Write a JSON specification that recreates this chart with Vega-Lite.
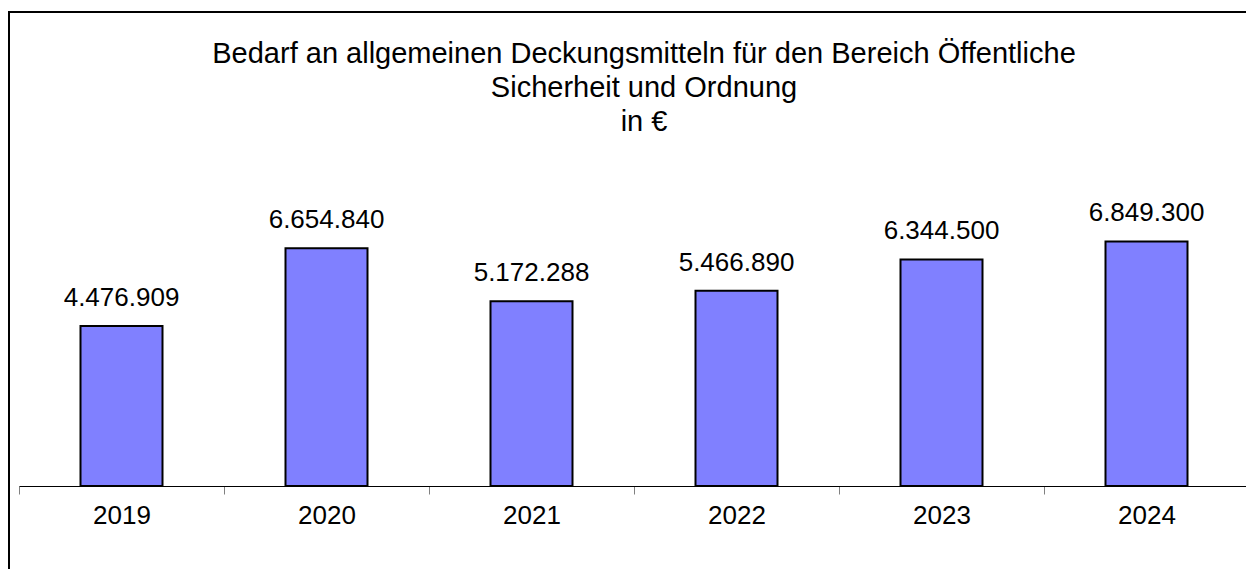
{
  "$schema": "https://vega.github.io/schema/vega-lite/v6.json",
  "autosize": "none",
  "width": 1300,
  "height": 620,
  "padding": {"left": 9, "top": 12, "right": -63, "bottom": -63},
  "background": "white",
  "config": {
    "font": "Liberation Sans",
    "view": {"stroke": "black", "strokeWidth": 2},
    "locale": {"number": {"decimal": ",", "thousands": ".", "grouping": [3], "currency": ["", " €"]}}
  },
  "title": {
    "text": ["Bedarf an allgemeinen Deckungsmitteln für den Bereich Öffentliche", "Sicherheit und Ordnung", "in €"],
    "font": "Liberation Sans",
    "fontSize": 29,
    "fontWeight": "normal",
    "color": "black",
    "lineHeight": 34,
    "anchor": "middle",
    "frame": "group",
    "baseline": "top",
    "offset": -125,
    "dx": -15
  },
  "data": {
    "values": [
      {"Jahr": "2019", "Betrag": 4476909},
      {"Jahr": "2020", "Betrag": 6654840},
      {"Jahr": "2021", "Betrag": 5172288},
      {"Jahr": "2022", "Betrag": 5466890},
      {"Jahr": "2023", "Betrag": 6344500},
      {"Jahr": "2024", "Betrag": 6849300}
    ]
  },
  "encoding": {
    "x": {
      "field": "Jahr",
      "type": "nominal",
      "scale": {"paddingInner": 0, "paddingOuter": 0, "range": [10, 1240]},
      "axis": {
        "title": null,
        "orient": "bottom",
        "offset": -146,
        "tickBand": "extent",
        "domainColor": "black",
        "domainWidth": 1,
        "tickColor": "#808080",
        "tickSize": 8,
        "tickWidth": 1,
        "labelAngle": 0,
        "labelFont": "Liberation Sans",
        "labelFontSize": 26,
        "labelColor": "black",
        "labelPadding": 8
      }
    },
    "y": {
      "field": "Betrag",
      "type": "quantitative",
      "scale": {"domain": [-4088000, 13272000], "nice": false, "zero": false},
      "axis": null
    }
  },
  "layer": [
    {
      "mark": {"type": "bar", "color": "#8080FF", "stroke": "black", "strokeWidth": 2, "width": {"band": 0.4}}
    },
    {
      "mark": {"type": "text", "baseline": "alphabetic", "dy": -20, "fontSize": 26, "font": "Liberation Sans", "color": "black"},
      "encoding": {"text": {"field": "Betrag", "type": "quantitative", "format": ",d"}}
    }
  ]
}
